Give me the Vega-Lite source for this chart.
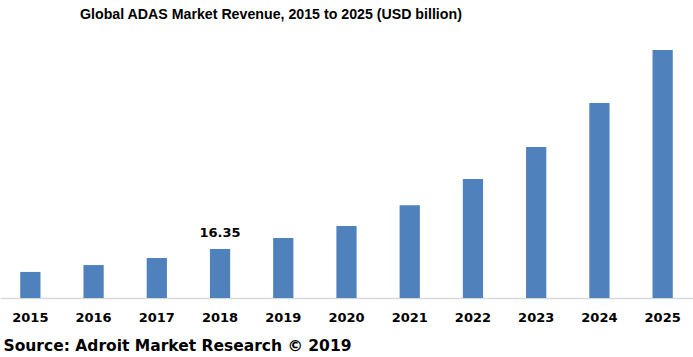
{
  "$schema": "https://vega.github.io/schema/vega-lite/v6.json",
  "autosize": {"type": "none"},
  "width": 693,
  "height": 248,
  "padding": {"left": 0, "right": 0, "top": 50, "bottom": 59},
  "background": "white",
  "title": {
    "text": "Global ADAS Market Revenue, 2015 to 2025 (USD billion)",
    "font": "Liberation Sans",
    "fontSize": 14.2,
    "fontWeight": "bold",
    "color": "#000000",
    "anchor": "start",
    "dx": 80,
    "dy": 2,
    "offset": 8
  },
  "data": {
    "values": [
      {"year": "2015", "revenue": 8.7, "label": ""},
      {"year": "2016", "revenue": 11.0, "label": ""},
      {"year": "2017", "revenue": 13.35, "label": ""},
      {"year": "2018", "revenue": 16.35, "label": "16.35"},
      {"year": "2019", "revenue": 20.0, "label": ""},
      {"year": "2020", "revenue": 24.0, "label": ""},
      {"year": "2021", "revenue": 31.0, "label": ""},
      {"year": "2022", "revenue": 39.7, "label": ""},
      {"year": "2023", "revenue": 50.4, "label": ""},
      {"year": "2024", "revenue": 65.1, "label": ""},
      {"year": "2025", "revenue": 82.8, "label": ""}
    ]
  },
  "encoding": {
    "x": {
      "field": "year",
      "type": "ordinal",
      "scale": {"paddingInner": 0.68, "paddingOuter": 0.32},
      "axis": {
        "title": "Source: Adroit Market Research © 2019",
        "titleFont": "DejaVu Sans",
        "titleFontSize": 15.5,
        "titleFontWeight": "bold",
        "titleColor": "#000000",
        "titleAlign": "left",
        "titleAnchor": "start",
        "titleBaseline": "alphabetic",
        "titleX": 3,
        "titleY": 52,
        "labelAngle": 0,
        "labelFont": "DejaVu Sans",
        "labelFontSize": 13,
        "labelFontWeight": "bold",
        "labelColor": "#000000",
        "labelPadding": 13,
        "ticks": false,
        "domainColor": "#D9D9D9",
        "domainWidth": 1.5
      }
    }
  },
  "layer": [
    {
      "mark": {"type": "bar", "color": "#4F81BD"},
      "encoding": {
        "y": {
          "field": "revenue",
          "type": "quantitative",
          "scale": {"domain": [0, 82.8], "nice": false},
          "axis": null
        }
      }
    },
    {
      "mark": {"type": "text", "font": "DejaVu Sans", "fontSize": 13, "fontWeight": "bold", "color": "#000000", "baseline": "bottom", "dy": -9},
      "encoding": {
        "y": {"field": "revenue", "type": "quantitative"},
        "text": {"field": "label"}
      }
    }
  ],
  "config": {"view": {"stroke": null}}
}
